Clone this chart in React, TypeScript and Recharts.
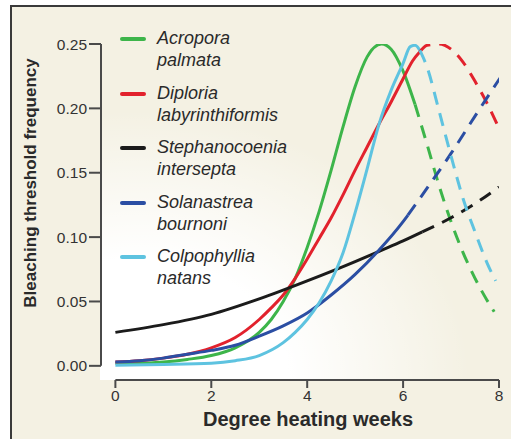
import React from "react";
import { LineChart, Line, XAxis, YAxis, ReferenceLine } from "recharts";

type Pt = [number, number];

const X_TICKS = [0, 2, 4, 6, 8];
const Y_TICKS = [0, 0.05, 0.1, 0.15, 0.2, 0.25];
// axes are drawn a little apart from the data (range frame)
const X_MIN = -0.3;
const Y_MIN = -0.011;

// [degree heating weeks, bleaching threshold frequency]
// solid = fitted range, dashed = extrapolation
const acroporaFit: Pt[] = [
  [0, 0.002], [0.5, 0.002], [1, 0.003], [1.5, 0.005], [2, 0.008], [2.5, 0.014],
  [3, 0.026], [3.25, 0.036], [3.5, 0.05], [3.75, 0.068], [4, 0.092], [4.25, 0.12],
  [4.5, 0.152], [4.75, 0.186], [5, 0.217], [5.25, 0.24], [5.55, 0.25], [5.75, 0.246],
  [6, 0.229], [6.25, 0.203],
];
const acroporaExtrap: Pt[] = [
  [6.25, 0.203], [6.5, 0.172], [6.75, 0.14], [7, 0.112], [7.25, 0.088],
  [7.5, 0.068], [7.75, 0.051], [7.9, 0.042],
];

const diploriaFit: Pt[] = [
  [0, 0.003], [0.5, 0.004], [1, 0.006], [1.5, 0.009], [2, 0.014], [2.5, 0.022],
  [3, 0.036], [3.25, 0.045], [3.5, 0.055], [3.75, 0.068], [4, 0.083], [4.25, 0.099],
  [4.5, 0.115], [4.75, 0.133], [5, 0.152], [5.25, 0.17], [5.5, 0.188], [5.75, 0.205],
  [6, 0.223], [6.2, 0.237], [6.35, 0.244],
];
const diploriaExtrap: Pt[] = [
  [6.35, 0.244], [6.5, 0.249], [6.75, 0.25], [7, 0.246], [7.25, 0.236],
  [7.5, 0.221], [7.75, 0.204], [7.97, 0.187],
];

const stephanoFit: Pt[] = [
  [0, 0.026], [1, 0.032], [2, 0.04], [3, 0.052], [4, 0.066], [5, 0.081],
  [5.5, 0.089], [6, 0.097], [6.4, 0.104],
];
const stephanoExtrap: Pt[] = [
  [6.4, 0.104], [7, 0.115], [7.5, 0.126], [8, 0.139],
];

const solanastreaFit: Pt[] = [
  [0, 0.003], [0.5, 0.004], [1, 0.006], [1.5, 0.009], [2, 0.012], [2.5, 0.016],
  [3, 0.023], [3.5, 0.031], [4, 0.041], [4.5, 0.055], [5, 0.071], [5.5, 0.09],
  [6, 0.112], [6.1, 0.117],
];
const solanastreaExtrap: Pt[] = [
  [6.1, 0.117], [6.5, 0.138], [7, 0.165], [7.5, 0.194], [8.03, 0.224],
];

const colpoFit: Pt[] = [
  [0, 0.0005], [1, 0.001], [2, 0.002], [2.5, 0.004], [3, 0.008], [3.5, 0.018],
  [3.75, 0.026], [4, 0.036], [4.25, 0.049], [4.5, 0.066], [4.75, 0.088], [5, 0.119],
  [5.25, 0.153], [5.5, 0.188], [5.75, 0.214], [6, 0.235], [6.15, 0.248], [6.25, 0.249],
  [6.35, 0.245],
];
const colpoExtrap: Pt[] = [
  [6.35, 0.245], [6.5, 0.232], [6.75, 0.198], [7, 0.163], [7.25, 0.13],
  [7.5, 0.104], [7.75, 0.08], [7.93, 0.066],
];

const SPECIES = [
  { genus: "Acropora", epithet: "palmata", color: "#3db54a", fit: acroporaFit, extrap: acroporaExtrap },
  { genus: "Diploria", epithet: "labyrinthiformis", color: "#e2222d", fit: diploriaFit, extrap: diploriaExtrap },
  { genus: "Stephanocoenia", epithet: "intersepta", color: "#1b1b1b", fit: stephanoFit, extrap: stephanoExtrap },
  { genus: "Solanastrea", epithet: "bournoni", color: "#2b4ea3", fit: solanastreaFit, extrap: solanastreaExtrap },
  { genus: "Colpophyllia", epithet: "natans", color: "#5ec3e0", fit: colpoFit, extrap: colpoExtrap },
];

const toRows = (pts: Pt[]) => pts.map(([x, y]) => ({ x, y }));

const FONT = '"Liberation Sans", Arial, Helvetica, sans-serif';
const BEIGE = "#f4f1e3";
const AXIS = "#4a4a4a";

const YTitle = () => (
  <text
    x={30}
    y={183}
    transform="rotate(-90, 30, 183)"
    textAnchor="middle"
    dominantBaseline="central"
    fontFamily={FONT}
    fontWeight="bold"
    fontSize={17}
    fill="#2a2a2a"
  >
    Bleaching threshold frequency
  </text>
);

const XTitle = () => (
  <text
    x={308}
    y={426}
    textAnchor="middle"
    fontFamily={FONT}
    fontWeight="bold"
    fontSize={20}
    fill="#2a2a2a"
  >
    Degree heating weeks
  </text>
);

const SpeciesLegend = () => (
  <div
    style={{
      position: "absolute",
      left: 120,
      top: 27,
      fontFamily: FONT,
      fontStyle: "italic",
      fontSize: 18,
      lineHeight: "22px",
      color: "#2a2a2a",
    }}
  >
    {SPECIES.map((s) => (
      <div key={s.genus} style={{ display: "flex", marginBottom: 10.5 }}>
        <div
          style={{
            width: 26,
            height: 4,
            marginTop: 10,
            marginRight: 11,
            borderRadius: 2,
            background: s.color,
            flexShrink: 0,
          }}
        />
        <div>
          <div>{s.genus}</div>
          <div>{s.epithet}</div>
        </div>
      </div>
    ))}
  </div>
);

export default function App() {
  return (
    <div style={{ position: "absolute", left: 0, top: 0, width: 511, height: 439, background: "#fff", overflow: "hidden" }}>
      {/* frame + paper */}
      <div
        style={{
          position: "absolute",
          left: 10,
          top: 5,
          width: 510,
          height: 440,
          background: BEIGE,
          borderLeft: "2px solid #3a3a3a",
          borderTop: "2px solid #3a3a3a",
        }}
      />
      {/* white glow in the lower left of the plot */}
      <div
        style={{
          position: "absolute",
          left: 100,
          top: 40,
          width: 400,
          height: 340,
          background:
            "radial-gradient(ellipse 330px 270px at 10% 100%, rgba(255,255,255,1) 45%, rgba(255,255,255,0) 100%)",
        }}
      />
      <div style={{ position: "absolute", left: 0, top: 0 }}>
        <LineChart width={511} height={439} margin={{ top: 44, right: 12, bottom: 9, left: 11 }}>
          <XAxis
            type="number"
            dataKey="x"
            domain={[X_MIN, 8]}
            ticks={X_TICKS}
            allowDataOverflow
            axisLine={false}
            tickSize={8}
            tickLine={{ stroke: AXIS, strokeWidth: 2 }}
            tick={{ fontSize: 15.5, fill: "#333", fontFamily: FONT }}
            height={50}
            label={{ content: () => <XTitle /> }}
          />
          <YAxis
            type="number"
            dataKey="y"
            domain={[Y_MIN, 0.25]}
            ticks={Y_TICKS}
            allowDataOverflow
            axisLine={false}
            tickSize={12}
            tickLine={{ stroke: AXIS, strokeWidth: 2 }}
            tickFormatter={(v: number) => v.toFixed(2)}
            tick={{ fontSize: 15.5, fill: "#333", fontFamily: FONT }}
            width={90}
            label={{ content: () => <YTitle /> }}
          />
          <ReferenceLine
            segment={[{ x: X_MIN, y: 0 }, { x: X_MIN, y: 0.25 }]}
            stroke={AXIS}
            strokeWidth={2}
            ifOverflow="visible"
          />
          <ReferenceLine
            segment={[{ x: 0, y: Y_MIN }, { x: 8, y: Y_MIN }]}
            stroke={AXIS}
            strokeWidth={2}
            ifOverflow="visible"
          />
          {SPECIES.map((s) => (
            <Line
              key={s.genus + "-fit"}
              data={toRows(s.fit)}
              dataKey="y"
              type="monotone"
              stroke={s.color}
              strokeWidth={3}
              dot={false}
              activeDot={false}
              isAnimationActive={false}
            />
          ))}
          {SPECIES.map((s) => (
            <Line
              key={s.genus + "-extrap"}
              data={toRows(s.extrap)}
              dataKey="y"
              type="monotone"
              stroke={s.color}
              strokeWidth={3}
              strokeDasharray="13 9"
              dot={false}
              activeDot={false}
              isAnimationActive={false}
            />
          ))}
        </LineChart>
      </div>
      <SpeciesLegend />
    </div>
  );
}
